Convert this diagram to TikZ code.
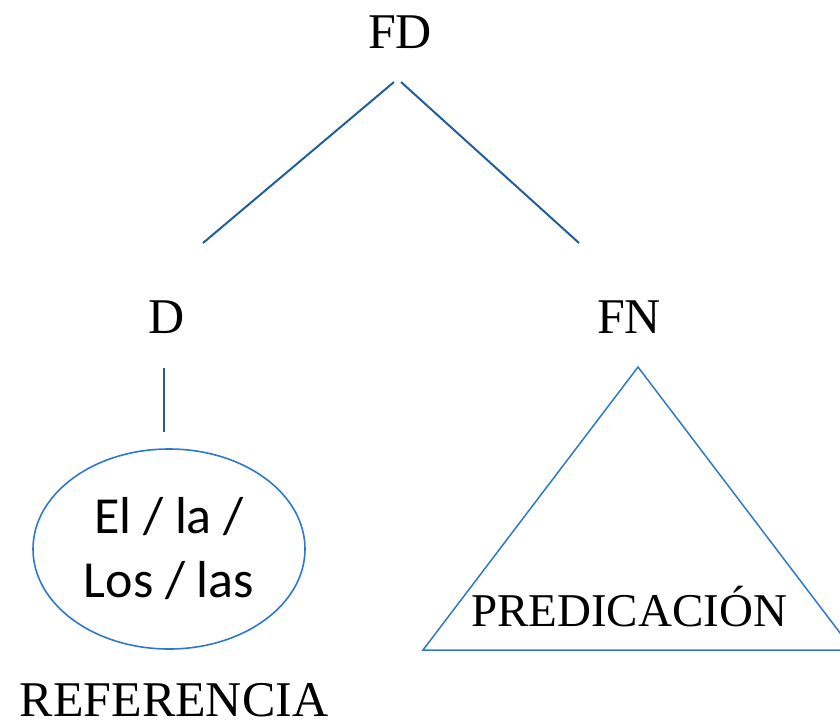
\documentclass[tikz,border=0pt]{standalone}
\usepackage{fontspec}
\setmainfont{Liberation Serif}
\newfontfamily\calibri{Carlito}
\usetikzlibrary{shapes.geometric}
\definecolor{treeblue}{HTML}{215F9A}
\definecolor{shapeblue}{HTML}{2E78CC}
\tikzset{cat/.style={inner sep=0pt, anchor=base, font=\fontsize{50}{60}\selectfont},
  branch/.style={draw=treeblue, line width=2pt}}

\begin{document}
\begin{tikzpicture}[x=1pt,y=-1pt]
\clip (0,0) rectangle (840,724);
\node[cat] (fd) at (400,48) {FD};
\node[cat] (d) at (167,333) {D};
\node[cat] (fn) at (629,333) {FN};
\node[cat] (ref) at (174,716) {REFERENCIA};
\node[cat, font=\fontsize{47}{56}\selectfont] (pred) at (629,626) {PREDICACIÓN};
\node[ellipse, draw=shapeblue, line width=1.6pt, minimum width=272pt, minimum height=200pt,
  inner sep=0pt, align=center, font=\calibri\fontsize{52}{64}\selectfont] (art) at (169,549) {El / la /\\Los / las};

\coordinate (fd-l) at (394,82);
\coordinate (fd-r) at (401,82);
\coordinate (d-top) at (203,243);
\coordinate (fn-top) at (579,243);
\coordinate (d-stem) at (164,368);
\coordinate (art-top) at (164,432);
\coordinate (tri-top) at (638,367);
\coordinate (tri-l) at (423,650);
\coordinate (tri-r) at (853,650);

\draw[branch] (fd-l) -- (d-top);
\draw[branch] (fd-r) -- (fn-top);
\draw[branch] (d-stem) -- (art-top);
\draw[shapeblue, line width=1.5pt] (tri-top) -- (tri-l) -- (tri-r) -- cycle;
\end{tikzpicture}
\end{document}
